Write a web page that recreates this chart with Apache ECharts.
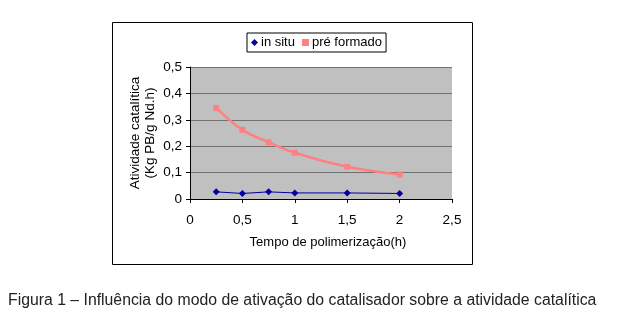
<!DOCTYPE html>
<html><head><meta charset="utf-8">
<script src="https://cdn.jsdelivr.net/npm/echarts@6/dist/echarts.min.js"></script>
<style>html,body{margin:0;padding:0;background:#fff}#c{width:618px;height:335px}</style>
</head><body><div id="c"></div>
<script>
var timeH = [0.25, 0.5, 0.75, 1, 1.5, 2];
var inSitu = [0.027, 0.021, 0.027, 0.023, 0.023, 0.021];
var preFormado = [0.345, 0.262, 0.215, 0.175, 0.122, 0.093];
var seriesNames = ['in situ', 'pré formado'];
var xTitle = 'Tempo de polimerização(h)';
var yTitle = 'Atividade catalítica\n(Kg PB/g Nd.h)';
var caption = 'Figura 1 – Influência do modo de ativação do catalisador sobre a atividade catalítica';

function pairs(xs, ys){ return xs.map(function(x,i){return [x, ys[i]];}); }
var fmt = function(v){ return String(v).replace('.', ','); };
var chart = echarts.init(document.getElementById('c'), null, {renderer:'canvas'});
chart.setOption({
  animation:false,
  textStyle:{fontFamily:'Liberation Sans, Arial, sans-serif'},
  graphic:[
    {type:'rect', shape:{x:112.5, y:22.5, width:360, height:242}, style:{fill:'none', stroke:'#000', lineWidth:1}, z:-1},
    {type:'text', left:8, top:293, style:{text:caption, font:'15.8px "Liberation Sans", Arial, sans-serif', fill:'#222'}}
  ],
  legend:{
    data:[{name:seriesNames[0], icon:'diamond'},{name:seriesNames[1], icon:'rect'}],
    left:247, top:33, itemWidth:7, itemHeight:7, itemGap:7,
    padding:[3,4,3,4], borderColor:'#000', borderWidth:1,
    textStyle:{fontSize:13, color:'#000', padding:[0,0,0,-2]}
  },
  grid:{left:190, top:67, width:262, height:132, show:true, backgroundColor:'#C0C0C0', borderWidth:0},
  xAxis:{type:'value', min:0, max:2.5, interval:0.5,
    name:xTitle, nameLocation:'middle', nameGap:37,
    nameTextStyle:{fontSize:13, color:'#000', padding:[0,0,0,14]},
    axisLine:{onZero:false, lineStyle:{color:'#000'}},
    axisTick:{show:true, length:4, lineStyle:{color:'#000'}},
    axisLabel:{fontSize:13.5, color:'#000', margin:14, formatter:fmt},
    splitLine:{show:false}},
  yAxis:{type:'value', min:0, max:0.5, interval:0.1,
    name:yTitle, nameLocation:'middle', nameGap:32, nameRotate:90,
    nameTextStyle:{fontSize:13.5, color:'#000', lineHeight:15},
    axisLine:{show:true, lineStyle:{color:'#000'}},
    axisTick:{show:true, length:4, lineStyle:{color:'#000'}},
    axisLabel:{fontSize:13.5, color:'#000', margin:8, formatter:fmt},
    splitLine:{show:true, lineStyle:{color:'#707070', width:1}}},
  series:[
    {name:seriesNames[0], type:'line', data:pairs(timeH, inSitu), symbol:'diamond', symbolSize:7,
      itemStyle:{color:'#0000A0'}, lineStyle:{color:'#0000A0', width:1}},
    {name:seriesNames[1], type:'line', data:pairs(timeH, preFormado), symbol:'rect', symbolSize:6, smooth:0.4,
      itemStyle:{color:'#FF8080'}, lineStyle:{color:'#FF8080', width:2.5}}
  ]
});
</script></body></html>
